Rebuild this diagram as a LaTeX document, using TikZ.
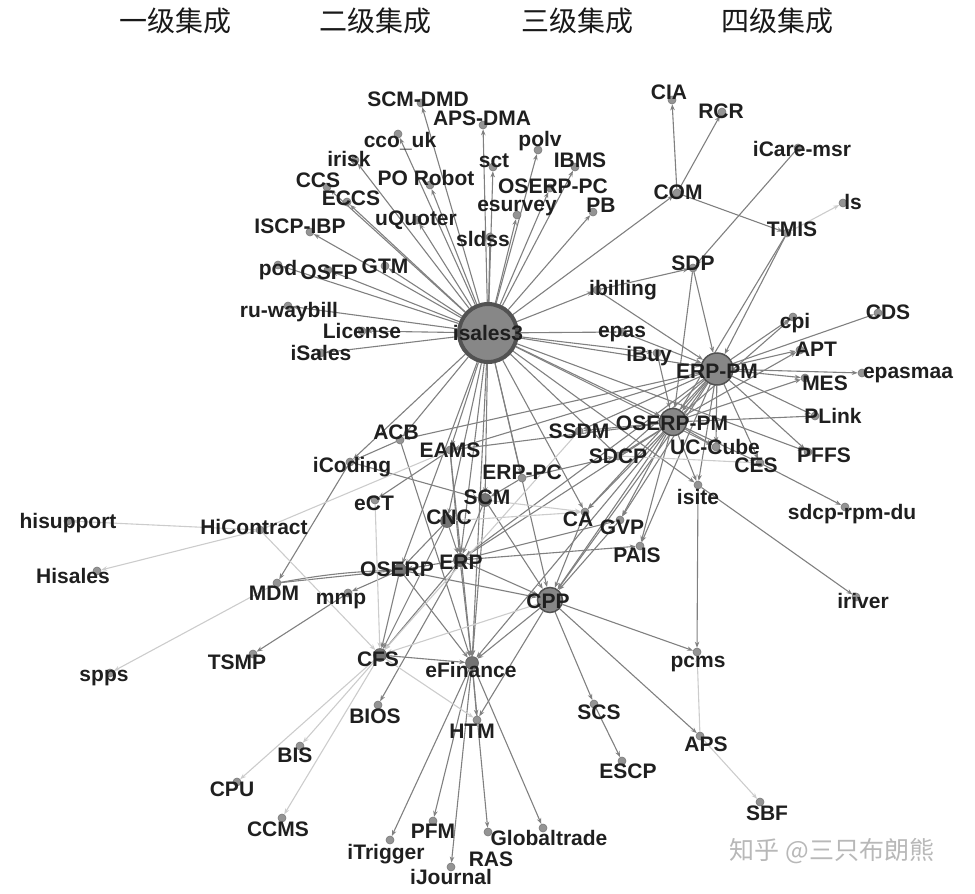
\documentclass[tikz,border=0pt]{standalone}
\usepackage{fontspec}
\setmainfont{Liberation Sans}
\newfontfamily\cjkfont{Noto Sans CJK SC}
\usetikzlibrary{arrows.meta,backgrounds}
\tikzset{
  sys/.style={circle,inner sep=0pt,minimum size=8pt,fill=black!42,draw=black!52,line width=0.6pt},
  midsys/.style={sys,minimum size=13pt,fill=black!55,draw=black!62},
  hubsys/.style={circle,inner sep=0pt,fill=black!47,draw=black!68},
  lbl/.style={inner sep=0pt,text=black!88,font=\fontsize{21}{21}\selectfont\bfseries},
  dep/.style={draw=black!50,line width=1.1pt,-{Stealth[length=6pt,width=4.5pt]}},
  weak/.style={draw=black!20,line width=1.1pt,-{Stealth[length=6pt,width=4.5pt]}},
  level/.style={inner sep=0pt,text=black!90,font=\cjkfont\fontsize{28}{28}\selectfont}
}

\begin{document}
\begin{tikzpicture}[x=1pt,y=-1pt]
\useasboundingbox (0,0) rectangle (975,894);

% 集成级别
\node[level] (h1) at (175,21) {一级集成};
\node[level] (h2) at (375,21) {二级集成};
\node[level] (h3) at (577,21) {三级集成};
\node[level] (h4) at (777,21) {四级集成};

% 核心系统
\node[hubsys,minimum size=58pt,line width=4pt] (i3) at (488,333) {};
\node[hubsys,minimum size=32pt,line width=1.5pt] (epm) at (717,369) {};
\node[hubsys,minimum size=27pt,line width=1.5pt] (opm) at (673,422) {};
\node[hubsys,minimum size=25pt,line width=1.5pt] (cpp) at (550,600) {};
\node[lbl] (i3-l) at (488,333) {isales3};
\node[lbl] (epm-l) at (717,371) {ERP-PM};
\node[lbl] (opm-l) at (672,423) {OSERP-PM};
\node[lbl] (cpp-l) at (548,601) {CPP};

% 中间系统
\foreach \n/\x/\y/\lx/\ly/\t in {scm/485/500/487/497/SCM, cnc/447/521/449/517/CNC,
  erp/460/560/461/562/ERP, oserp/400/570/397/569/OSERP, cfs/380/655/378/659/CFS,
  efin/472/663/471/670/eFinance}{
  \node[midsys] (\n) at (\x,\y) {};
  \node[lbl] (\n-l) at (\lx,\ly) {\t};
}

% 其他系统
\foreach \n/\x/\y/\lx/\ly/\t in {
  scmdmd/421/103/418/99/SCM-DMD, apsdma/483/125/482/118/APS-DMA,
  ccouk/398/134/400/141/cco\_uk, polv/538/150/540/141/polv,
  irisk/355/160/349/159/irisk, sct/493/167/494/161/sct,
  ibms/575/167/580/160/IBMS, ccs/327/187/318/180/CCS,
  porobot/430/185/426/178/PO Robot, oserppc/550/188/553/186/OSERP-PC,
  eccs/347/202/351/198/ECCS, esurvey/517/215/517/208/esurvey,
  pb/593/212/601/205/PB, uquoter/417/220/416/220/uQuoter,
  iscpibp/310/232/300/226/ISCP-IBP, sldss/490/237/483/239/sldss,
  pod/278/265/278/270/pod, osfp/328/270/329/272/OSFP,
  gtm/385/266/385/266/GTM, ruwaybill/288/306/289/312/ru-waybill,
  license/362/331/362/331/License, isales/321/353/321/353/iSales,
  ibilling/597/290/623/290/ibilling, epas/622/332/622/334/epas,
  ibuy/657/353/649/356/iBuy, cia/672/100/669/92/CIA,
  rcr/722/112/721/111/RCR, icare/798/148/802/149/iCare-msr,
  com/677/193/678/192/COM, ls/843/203/853/202/ls,
  tmis/787/233/792/229/TMIS, sdp/693/268/693/263/SDP,
  cpi/793/317/795/323/cpi, cds/878/313/888/312/CDS,
  apt/800/350/816/349/APT, epasmaa/862/373/908/375/epasmaa,
  mes/805/378/825/383/MES, plink/815/416/833/416/PLink,
  pffs/808/452/824/455/PFFS, ces/760/463/756/465/CES,
  uccube/716/447/715/447/UC-Cube, ssdm/579/431/579/431/SSDM,
  sdcp/618/456/618/456/SDCP, isite/698/485/698/497/isite,
  sdcprpm/845/507/852/514/sdcp-rpm-du, iriver/856/597/863/601/iriver,
  pcms/697/652/698/664/pcms, aps/700/736/706/744/APS,
  sbf/760/802/767/813/SBF, scs/594/704/599/712/SCS,
  escp/622/761/628/771/ESCP, pais/640/546/637/555/PAIS,
  gvp/620/520/622/527/GVP, ca/585/512/578/519/CA,
  erppc/522/478/522/472/ERP-PC, eams/450/450/450/450/EAMS,
  acb/400/440/396/432/ACB, icoding/350/462/352/467/iCoding,
  ect/375/500/374/503/eCT, hicontract/260/530/254/527/HiContract,
  hisupport/68/521/68/523/hisupport, hisales/97/571/73/576/Hisales,
  mdm/277/583/274/593/MDM, mmp/348/593/341/601/mmp,
  tsmp/253/654/237/662/TSMP, spps/110/673/104/678/spps,
  bios/378/705/375/716/BIOS, htm/477/720/472/731/HTM,
  bis/300/746/295/755/BIS, cpu/237/782/232/789/CPU,
  ccms/282/818/278/829/CCMS, pfm/433/821/433/831/PFM,
  itrigger/390/840/386/854/iTrigger, ijournal/451/867/451/877/iJournal,
  ras/488/832/491/859/RAS, globaltrade/543/828/549/838/Globaltrade}{
  \node[sys] (\n) at (\x,\y) {};
  \node[lbl] (\n-l) at (\lx,\ly) {\t};
}

\node[inner sep=0pt,text=black!28,font=\cjkfont\fontsize{25}{25}\selectfont] (wm) at (832,851) {知乎 @三只布朗熊};

\begin{pgfonlayer}{background}
% 依赖关系
\foreach \a/\b in {i3/scmdmd, i3/apsdma, i3/ccouk, i3/polv, i3/irisk, i3/sct, i3/ibms,
  i3/ccs, i3/porobot, i3/oserppc, i3/eccs, i3/esurvey, i3/pb, i3/uquoter, i3/iscpibp,
  i3/sldss, i3/pod, i3/osfp, i3/gtm, i3/ruwaybill, i3/license, i3/isales, i3/ibilling,
  i3/epas, i3/com, i3/ibuy, i3/epm, i3/opm, i3/uccube, i3/isite, i3/pffs, i3/sdcp,
  i3/acb, i3/icoding, i3/eams, i3/cnc, i3/oserp, i3/erp, i3/scm, i3/efin, i3/erppc,
  i3/cpp, i3/ca,
  com/cia, com/rcr, com/tmis, icare/sdp, ibilling/sdp, sdp/epm, sdp/opm, tmis/epm,
  tmis/opm, ibilling/epm, epas/epm, ibuy/opm,
  epm/cpi, epm/cds, epm/apt, epm/epasmaa, epm/mes, epm/plink, epm/pffs, epm/ces,
  epm/uccube, epm/isite, epm/opm, epm/ssdm, epm/eams, epm/acb, epm/cpp, epm/gvp,
  epm/pais, epm/ca, epm/erp, epm/sdcp,
  opm/cpi, opm/apt, opm/mes, opm/plink, opm/uccube, opm/isite, opm/cpp, opm/ca,
  opm/gvp, opm/pais, opm/sdcp, opm/ssdm, opm/erp, opm/eams, opm/efin, opm/ces,
  ces/sdcprpm, isite/iriver, isite/pcms, cpp/pcms, cpp/aps, cpp/scs, scs/escp,
  cpp/efin, cpp/htm, erp/cpp, scm/cpp, ca/cpp, gvp/cpp, erppc/sdcp, erppc/scm,
  scm/erp, scm/efin, erp/pais, erp/gvp, erp/efin, erp/cfs, erp/bios, erp/oserp,
  cnc/erp, cnc/oserp, cnc/cfs, eams/efin, eams/erp, eams/ect, acb/icoding, acb/efin,
  icoding/mdm, icoding/scm, mdm/oserp, oserp/mmp, mmp/tsmp, oserp/cfs, oserp/efin,
  oserp/cpp, cfs/efin, efin/htm, efin/pfm, efin/itrigger, efin/ijournal, efin/ras,
  efin/globaltrade}
  \draw[dep] (\a) -- (\b);
\draw[dep] (mdm) to[bend left=4] (oserp);
\foreach \a/\b in {tmis/ls, aps/pcms, aps/sbf, sdcp/ces, cnc/ca, scm/ca,
  hicontract/hisupport, hicontract/hisales, hicontract/eams, hicontract/cfs,
  mdm/spps, ect/cfs, ssdm/cfs, cpp/cfs, cfs/htm, cfs/bis, cfs/cpu, cfs/ccms}
  \draw[weak] (\a) -- (\b);
\end{pgfonlayer}
\end{tikzpicture}
\end{document}
